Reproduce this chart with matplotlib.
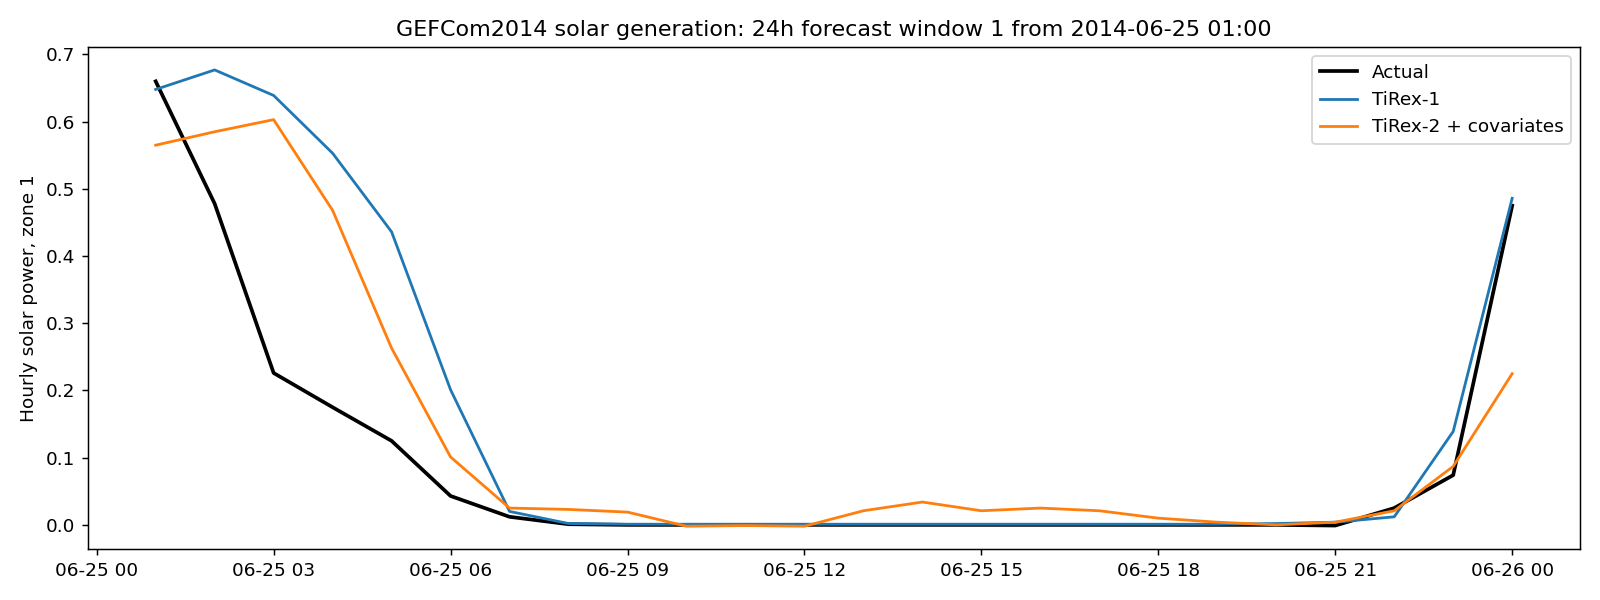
import pandas as pd
import matplotlib
matplotlib.use('Agg')
import matplotlib.pyplot as plt
import matplotlib.dates as mdates

times = pd.date_range('2014-06-25 01:00', periods=24, freq='h')

actual = [0.660, 0.478, 0.226, 0.175, 0.125, 0.043, 0.012, 0.001,
          0.000, 0.000, 0.000, 0.000, 0.000, 0.000, 0.000, 0.000,
          0.000, 0.000, 0.000, 0.000, -0.001, 0.025, 0.074, 0.475]
tirex1 = [0.648, 0.677, 0.639, 0.553, 0.436, 0.201, 0.020, 0.002,
          0.001, 0.001, 0.001, 0.001, 0.001, 0.001, 0.001, 0.001,
          0.001, 0.001, 0.001, 0.002, 0.004, 0.012, 0.139, 0.486]
tirex2 = [0.565, 0.585, 0.603, 0.468, 0.263, 0.101, 0.025, 0.023,
          0.019, -0.002, -0.001, -0.002, 0.021, 0.034, 0.021, 0.025,
          0.021, 0.010, 0.004, 0.000, 0.004, 0.021, 0.087, 0.225]

fig, ax = plt.subplots(figsize=(12, 4.5), dpi=400 / 3)
ax.plot(times, actual, color='black', lw=2, label='Actual')
ax.plot(times, tirex1, color='#1f77b4', lw=1.5, label='TiRex-1')
ax.plot(times, tirex2, color='#ff7f0e', lw=1.5, label='TiRex-2 + covariates')

ax.xaxis.set_major_locator(mdates.HourLocator(byhour=range(0, 24, 3)))
ax.xaxis.set_major_formatter(mdates.DateFormatter('%m-%d %H'))
ax.set_ylabel('Hourly solar power, zone 1')
ax.set_title('GEFCom2014 solar generation: 24h forecast window 1 from 2014-06-25 01:00')
ax.legend(loc='upper right')

fig.tight_layout()
fig.savefig('out.png')
